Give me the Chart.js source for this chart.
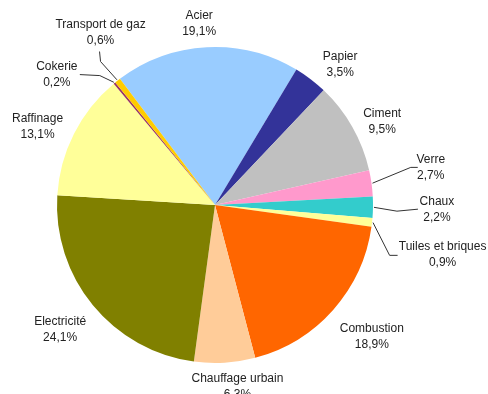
<!DOCTYPE html>
<html>
<head>
<meta charset="utf-8">
<script src="https://cdn.jsdelivr.net/npm/chart.js@4"></script>
<style>
  body { margin: 0; background: #fff; }
  canvas { display: block; }
</style>
</head>
<body>
<canvas id="emissions-pie" width="488" height="394"></canvas>
<script>
// Part de chaque secteur (%), dans le sens horaire à partir de l'acier
const sectors = ['Acier', 'Papier', 'Ciment', 'Verre', 'Chaux', 'Tuiles et briques',
  'Combustion', 'Chauffage urbain', 'Electricité', 'Raffinage', 'Cokerie', 'Transport de gaz'];
const shares = [19.1, 3.5, 9.5, 2.7, 2.2, 0.9, 18.9, 6.3, 24.1, 13.1, 0.2, 0.6];
const colors = ['#99CCFF', '#333399', '#C0C0C0', '#FF99CC', '#33CCCC', '#FFFF99',
  '#FF6600', '#FFCC99', '#808000', '#FFFF99', '#993366', '#FFCC00'];

// label placement: [angle shift from slice middle (deg), distance from centre (px)]
const labelPlace = [[-2, 182], [4.5, 188], [3, 187], [-2, 219], [0.5, 222], [6, 233],
  [-1.5, 205], [-3.5, 183], [0.5, 199], [-3, 194], [-11, 205], [4.5, 207]];

// leader lines for the small slices: elbow and end, relative to the label centre
const leaders = {
  3: [[-20, 0], [-13, 0]],
  4: [[-40, 1], [-19, -1]],
  5: [[-53, 0.5], [-45, 0.5]],
  10: [[43, 1], [23, 0]],
  11: [[0, 29], [-1, 19]]
};

const fmt = v => v.toFixed(1).replace('.', ',') + '%';

const pieLabels = {
  id: 'pieLabels',
  afterDraw(chart) {
    const ctx = chart.ctx;
    const arcs = chart.getDatasetMeta(0).data;
    ctx.save();
    ctx.font = '12px "Liberation Sans", Arial, sans-serif';
    ctx.fillStyle = '#222';
    ctx.textAlign = 'center';
    ctx.textBaseline = 'middle';
    ctx.strokeStyle = '#333';
    ctx.lineWidth = 1;

    arcs.forEach((arc, i) => {
      const { x, y, startAngle, endAngle, outerRadius } = arc.getProps(['x', 'y', 'startAngle', 'endAngle', 'outerRadius']);
      const mid = (startAngle + endAngle) / 2;
      const [shift, dist] = labelPlace[i];
      const a = mid + shift * Math.PI / 180;
      const lx = x + dist * Math.cos(a);
      const ly = y + dist * Math.sin(a);

      if (leaders[i]) {
        const [elbow, end] = leaders[i];
        ctx.beginPath();
        ctx.moveTo(x + (outerRadius + 1) * Math.cos(mid), y + (outerRadius + 1) * Math.sin(mid));
        ctx.lineTo(lx + elbow[0], ly + elbow[1]);
        ctx.lineTo(lx + end[0], ly + end[1]);
        ctx.stroke();
      }

      ctx.fillText(sectors[i], lx, ly - 8);
      ctx.fillText(fmt(shares[i]), lx, ly + 8);
    });
    ctx.restore();
  }
};

new Chart(document.getElementById('emissions-pie'), {
  type: 'pie',
  data: {
    labels: sectors,
    datasets: [{
      data: shares,
      backgroundColor: colors,
      borderWidth: 0
    }]
  },
  options: {
    responsive: false,
    animation: false,
    rotation: -37,
    layout: { padding: { left: 57, right: 115, top: 47, bottom: 31 } },
    plugins: {
      legend: { display: false },
      tooltip: { enabled: false }
    }
  },
  plugins: [pieLabels]
});
</script>
</body>
</html>
